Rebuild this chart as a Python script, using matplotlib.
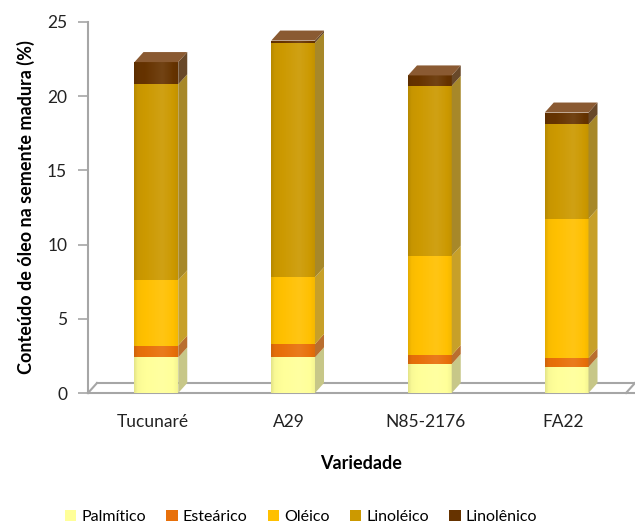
import numpy as np
import matplotlib.pyplot as plt
from matplotlib.patches import Polygon
from matplotlib.colors import to_rgb
from matplotlib.transforms import ScaledTranslation

plt.rcParams['font.family'] = ['Lato', 'DejaVu Sans']

variedades = ['Tucunaré', 'A29', 'N85-2176', 'FA22']
acidos = ['Palmítico', 'Esteárico', 'Oléico', 'Linoléico', 'Linolênico']

palmitico = [2.4, 2.4, 1.95, 1.75]
estearico = [0.8, 0.9, 0.6, 0.6]
oleico = [4.4, 4.5, 6.7, 9.4]
linoleico = [13.2, 15.8, 11.45, 6.35]
linolenico = [1.5, 0.15, 0.7, 0.8]

cores = ['#FFFF99', '#E8700A', '#FFC000', '#CC9900', '#663300']

DX, DY = 9, 10  # depth of the 3d look, in pixels

fig = plt.figure(figsize=(6.35, 5.25), dpi=100)
ax = fig.add_axes([88/635, 132/525, 547/635, 371/525])
ax.set_xlim(-0.5, 3.5)
ax.set_ylim(0, 25)

def side_color(c):
    r, g, b = to_rgb(c)
    return tuple(0.62*v + 0.38*0.42 for v in (r, g, b))

def tone(c, f):
    # f < 1 darkens, f > 1 mixes toward white
    rgb = np.array(to_rgb(c))
    if f <= 1:
        return rgb * f
    return rgb + (1 - rgb) * (f - 1)

# horizontal light profile across the front face
prof_x = np.array([0.0, 0.08, 0.25, 0.65, 0.85, 1.0])
prof_f = np.array([0.90, 0.98, 1.0, 1.08, 1.02, 0.96])
u = np.linspace(0, 1, 40)
prof = np.interp(u, prof_x, prof_f)

x = np.arange(len(variedades))
width = 0.32
series = [palmitico, estearico, oleico, linoleico, linolenico]
bottom = np.zeros(len(variedades))
handles = []
for vals, nome, cor in zip(series, acidos, cores):
    rects = ax.bar(x, vals, width, bottom=bottom, color=cor, label=nome, zorder=3)
    handles.append(rects)
    bottom = bottom + np.array(vals)
    grad = np.array([[tone(cor, f) for f in prof]])
    for rect in rects:
        bx, by = rect.get_x(), rect.get_y()
        bw, bh = rect.get_width(), rect.get_height()
        im = ax.imshow(grad, extent=(bx, bx + bw, by, by + bh), aspect='auto',
                       interpolation='bilinear', zorder=3.2)
        im.set_clip_path(rect)
        x0, y0 = ax.transData.transform((bx, by))
        x1, y1 = ax.transData.transform((bx + bw, by + bh))
        # right side face
        side = Polygon([(x1, y0), (x1 + DX, y0 + DY), (x1 + DX, y1 + DY), (x1, y1)],
                       closed=True, transform=None, facecolor=side_color(cor),
                       edgecolor='none', zorder=3, clip_on=False)
        fig.add_artist(side)

# top faces of the stacks
for i in range(len(variedades)):
    rect = handles[-1][i]
    x0, _ = ax.transData.transform((rect.get_x(), 0))
    x1, y1 = ax.transData.transform((rect.get_x() + rect.get_width(), bottom[i]))
    top = Polygon([(x0, y1), (x0 + DX, y1 + DY), (x1 + DX, y1 + DY), (x1, y1)],
                  closed=True, transform=None, facecolor='#8A5A32',
                  edgecolor='none', zorder=3, clip_on=False)
    fig.add_artist(top)

# floor of the plot
floor = '#A6A6A6'
off = ScaledTranslation(DX/100, DY/100, fig.dpi_scale_trans)
ax.plot([0, 1], [0, 0], transform=ax.transAxes + off, color=floor, lw=1.5, zorder=1, clip_on=False)
ax.plot([0, 1], [0, 0], transform=ax.transAxes, color=floor, lw=1.5, zorder=1, clip_on=False)
x0d, y0d = ax.transAxes.transform((0, 0))
x1d, _ = ax.transAxes.transform((1, 0))
for xd in (x0d, x1d - DX):
    fig.add_artist(plt.Line2D([xd, xd + DX], [y0d, y0d + DY], color=floor, lw=1.5,
                              transform=None))

for s in ['top', 'right', 'bottom']:
    ax.spines[s].set_visible(False)
ax.spines['left'].set_color(floor)
ax.spines['left'].set_linewidth(1.5)

ax.set_yticks([0, 5, 10, 15, 20, 25])
ax.tick_params(axis='y', colors=floor, labelcolor='#222222', labelsize=12.5,
               length=7, width=1.2, pad=8)
ax.set_xticks(x)
ax.set_xticklabels(variedades)
ax.tick_params(axis='x', length=0, labelsize=12.5, labelcolor='#222222', pad=15)
for lbl in ax.get_xticklabels():
    lbl.set_transform(lbl.get_transform() + ScaledTranslation(-4/100, 0, fig.dpi_scale_trans))

ax.set_xlabel('Variedade', fontsize=13, fontweight='bold', labelpad=18)
ax.set_ylabel('Conteúdo de óleo na semente madura (%)', fontsize=13, fontweight='bold',
              labelpad=9)

fig.legend(handles=handles, labels=acidos, loc='center', bbox_to_anchor=(301/635, 1 - 517/525),
           ncol=5, frameon=False, fontsize=11.5, handlelength=0.7, handleheight=0.7,
           handletextpad=0.3, columnspacing=1.3)

fig.savefig('out.png', dpi=100)
